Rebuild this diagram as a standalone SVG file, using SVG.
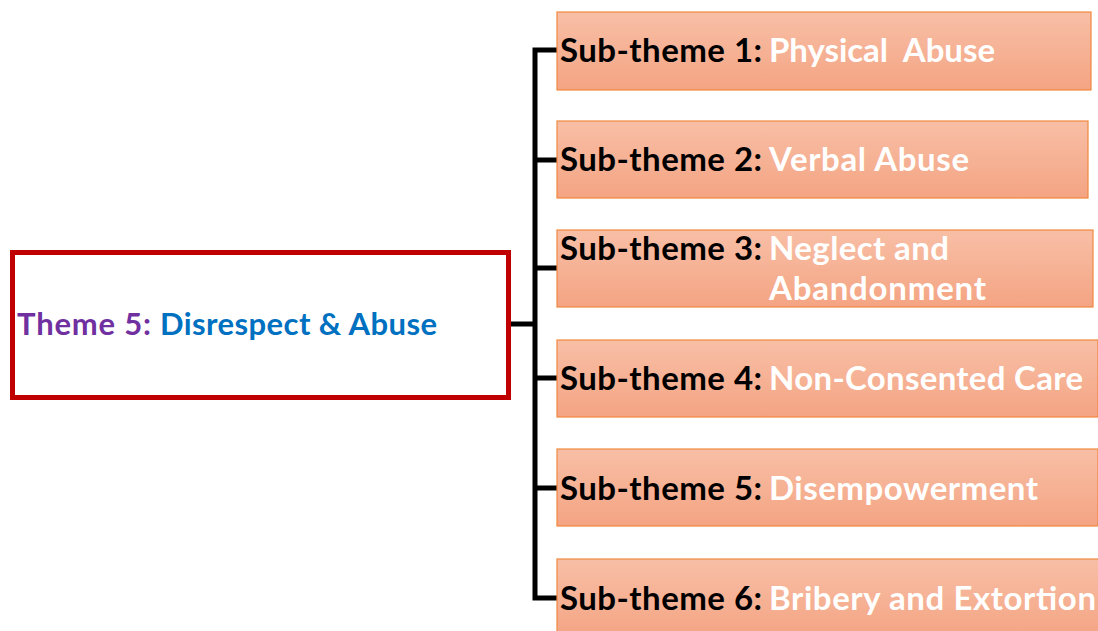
<svg xmlns="http://www.w3.org/2000/svg" width="1098" height="631" viewBox="0 0 1098 631">
  <defs>
    <linearGradient id="subFill" x1="0" y1="0" x2="0" y2="1">
      <stop offset="0" stop-color="#F8BFA6"/>
      <stop offset="1" stop-color="#F4A483"/>
    </linearGradient>
    <style>
      .lbl { font-family: Lato, "Open Sans", "Liberation Sans", sans-serif; font-weight: bold; font-size: 33px; white-space: pre; }
      .key { fill: #000000; }
      .val { fill: #FFFFFF; }
      .sub { fill: url(#subFill); stroke: #F0883F; stroke-width: 1.2; }
      .wire { fill: none; stroke: #000000; stroke-width: 5; }
    </style>
  </defs>

  <rect width="1098" height="631" fill="#FFFFFF"/>

  <!-- connectors -->
  <g id="connectors">
    <path class="wire" d="M511 324 H535"/>
    <path class="wire" d="M557 50 H535 V598 H557"/>
    <path class="wire" d="M535 160 H557 M535 268 H557 M535 378 H557 M535 488 H557"/>
  </g>

  <!-- main theme -->
  <g id="theme5">
    <rect x="12.5" y="252.5" width="496" height="145" fill="#FFFFFF" stroke="#C00000" stroke-width="5"/>
    <text class="lbl" y="335" style="font-size:31px"><tspan x="17" fill="#7030A0" textLength="134">Theme 5:</tspan><tspan x="160" fill="#0070C0" textLength="277">Disrespect &amp; Abuse</tspan></text>
  </g>

  <!-- sub-themes -->
  <g id="sub1">
    <rect class="sub" x="557" y="12" width="534" height="78"/>
    <text class="lbl" y="62"><tspan class="key" x="560" textLength="202">Sub-theme 1:</tspan><tspan class="val" x="769" textLength="226">Physical  Abuse</tspan></text>
  </g>
  <g id="sub2">
    <rect class="sub" x="557" y="121" width="531" height="77"/>
    <text class="lbl" y="171"><tspan class="key" x="560" textLength="202">Sub-theme 2:</tspan><tspan class="val" x="769" textLength="200">Verbal Abuse</tspan></text>
  </g>
  <g id="sub3">
    <rect class="sub" x="557" y="230" width="536" height="77"/>
    <text class="lbl" y="260"><tspan class="key" x="560" textLength="202">Sub-theme 3:</tspan><tspan class="val" x="769" textLength="180">Neglect and</tspan></text>
    <text class="lbl val" x="769" y="300" textLength="217">Abandonment</text>
  </g>
  <g id="sub4">
    <rect class="sub" x="557" y="340" width="541" height="77"/>
    <text class="lbl" y="390"><tspan class="key" x="560" textLength="202">Sub-theme 4:</tspan><tspan class="val" x="769" textLength="314">Non-Consented Care</tspan></text>
  </g>
  <g id="sub5">
    <rect class="sub" x="557" y="449" width="541" height="77"/>
    <text class="lbl" y="500"><tspan class="key" x="560" textLength="202">Sub-theme 5:</tspan><tspan class="val" x="769" textLength="269">Disempowerment</tspan></text>
  </g>
  <g id="sub6">
    <rect class="sub" x="557" y="559" width="545" height="80"/>
    <text class="lbl" y="610"><tspan class="key" x="560" textLength="202">Sub-theme 6:</tspan><tspan class="val" x="769" textLength="327">Bribery and Extortion</tspan></text>
  </g>
</svg>
